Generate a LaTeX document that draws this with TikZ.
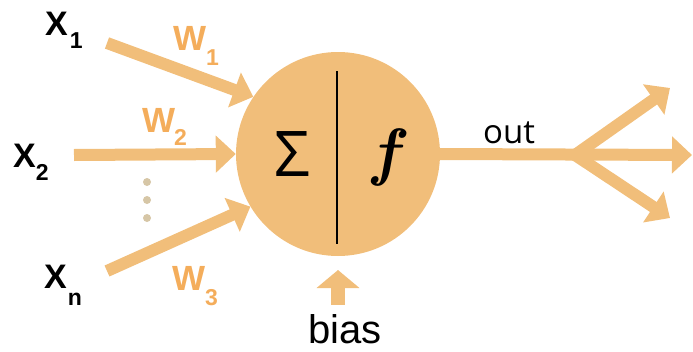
\documentclass[tikz,border=0pt]{standalone}
\usepackage{fontspec}
\setmainfont{Liberation Sans}
\newfontfamily\opensans{Open Sans}
\newfontfamily\lmfont{Latin Modern Roman}
\usetikzlibrary{arrows.meta}
\definecolor{arr}{HTML}{F1BE7A}
\definecolor{wcol}{HTML}{F4AD5B}
\definecolor{dotc}{HTML}{D6C6A6}
\newcommand\sublbl[5]{{\fontsize{#5}{#5}\selectfont\bfseries #1}\kern#3\raisebox{-#4}{\fontsize{23}{23}\selectfont\bfseries #2}}
\begin{document}
\begin{tikzpicture}[x=1pt,y=-1pt,
  flow/.style={draw=arr, line width=12pt, -{Triangle[length=20pt,width=36pt]}},
  branch/.style={draw=arr, line width=12pt, line cap=round, -{Triangle[length=20pt,width=36pt]}},
  xlbl/.style={anchor=base west, inner sep=0pt, text=black},
  wlbl/.style={anchor=base west, inner sep=0pt, text=wcol},
  dotstyle/.style={circle, fill=dotc, minimum size=8pt, inner sep=0pt}]
\useasboundingbox (0,0) rectangle (693,351);

% neuron
\node[circle, fill=arr, minimum size=204pt, inner sep=0pt] (neuron) at (338,154) {};
\coordinate (ltop) at (337,71);
\coordinate (lbot) at (337,244);
\draw[line width=1.1pt, black] (ltop) -- (lbot);
\node[inner sep=0pt] (sigma) at (292.5,154.5) {\fontsize{63}{63}\selectfont\opensans Σ};
\node[inner sep=0pt] (fn) at (385,157.5) {\fontsize{64}{64}\selectfont\lmfont\bfseries\itshape f};

% inputs
\coordinate (in1) at (107,43);
\coordinate (in2) at (74,155);
\coordinate (in3) at (107,271);
\draw[flow] (in1) -- (neuron.146.5);
\draw[flow] (in2) -- (neuron.west);
\draw[flow] (in3) -- (neuron.211.8);

% labels
\node[xlbl] (x1) at (45,35) {\sublbl{X}{1}{2pt}{13pt}{34}};
\node[xlbl] (x2) at (13,167) {\sublbl{X}{2}{0pt}{13pt}{34}};
\node[xlbl] (xn) at (44,288) {\sublbl{X}{n}{1pt}{17pt}{34}};
\node[wlbl] (w1) at (173,50) {\sublbl{W}{1}{0pt}{15pt}{35}};
\node[wlbl] (w2) at (142,132) {\sublbl{W}{2}{-1pt}{13pt}{35}};
\node[wlbl] (w3) at (172,290) {\sublbl{W}{3}{0pt}{15pt}{35}};

% dots
\node[dotstyle] (d1) at (147,182) {};
\node[dotstyle] (d2) at (147,200) {};
\node[dotstyle] (d3) at (147,218) {};

% output
\coordinate (split) at (575,155);
\coordinate (o1) at (670,88);
\coordinate (o2) at (692,155);
\coordinate (o3) at (670,218);
\draw[flow] (neuron.east) -- (o2);
\draw[branch] (split) -- (o1);
\draw[branch] (split) -- (o3);
\node[anchor=base west, inner sep=0pt] (out) at (483,143) {\fontsize{33}{33}\selectfont\opensans out};

% bias
\node[anchor=base, inner sep=0pt] (bias) at (345,343) {\fontsize{40}{40}\selectfont bias};
\coordinate (bs) at (338,305);
\coordinate (bt) at (338,270);
\draw[flow, line width=14pt, -{Triangle[length=18pt,width=42pt]}] (bs) -- (bt);
\end{tikzpicture}
\end{document}
